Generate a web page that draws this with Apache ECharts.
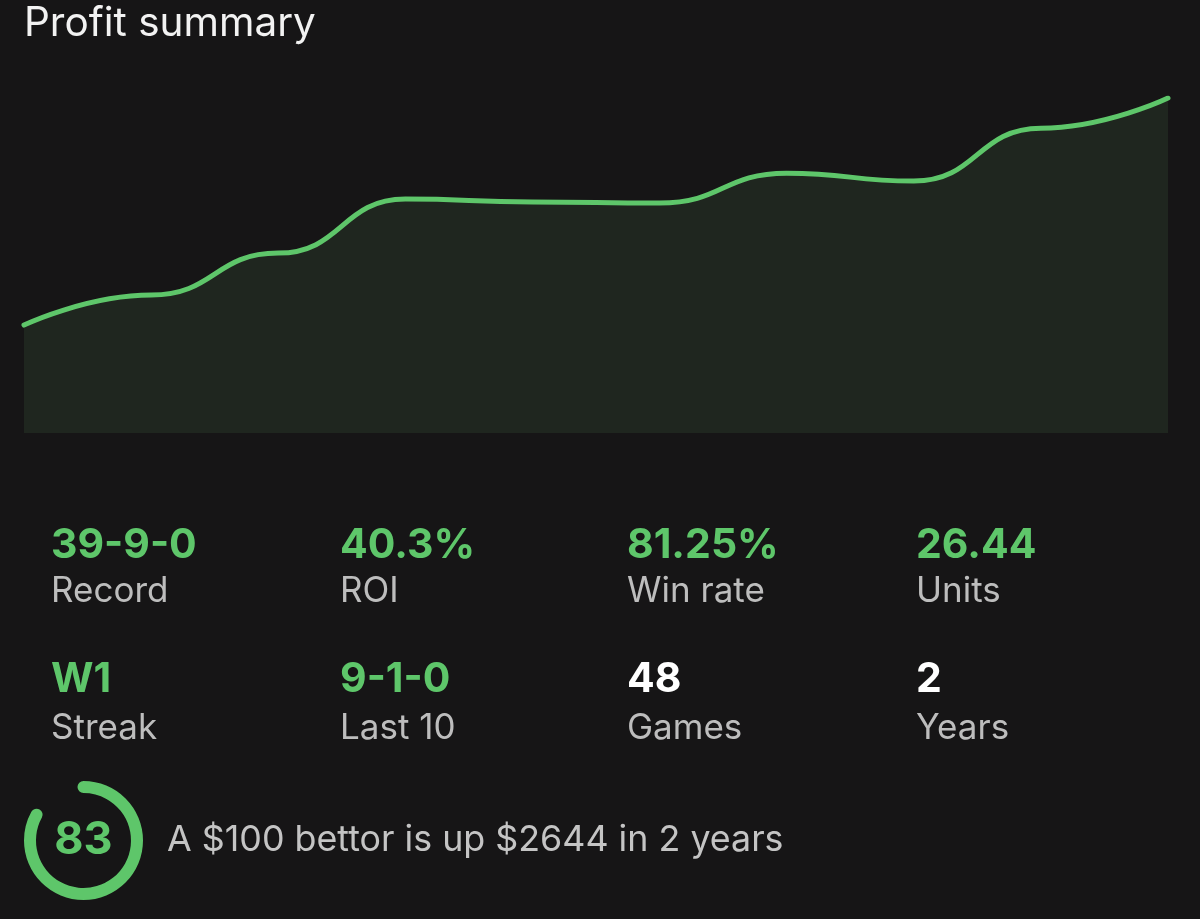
<!DOCTYPE html>
<html>
<head>
<meta charset="utf-8">
<script src="https://cdn.jsdelivr.net/npm/echarts@6/dist/echarts.min.js"></script>
<style>
  html, body { margin: 0; padding: 0; background: #161516; }
  #chart { width: 1200px; height: 919px; }
</style>
</head>
<body>
<div id="chart"></div>
<script>
// ---- data ----
const title = 'Profit summary';
const periods = ['1', '2', '3', '4', '5', '6', '7', '8', '9', '10'];
const cumulativeUnits = [8.52, 10.89, 14.20, 18.46, 18.23, 18.15, 20.51, 19.88, 24.06, 26.44];

const statValuesRow1 = ['39-9-0', '40.3%', '81.25%', '26.44'];
const statLabelsRow1 = ['Record', 'ROI', 'Win rate', 'Units'];
const statValuesRow2 = ['W1', '9-1-0', '48', '2'];
const statLabelsRow2 = ['Streak', 'Last 10', 'Games', 'Years'];
const statHighlightRow2 = [true, true, false, false];

const score = 83;
const scoreMax = 100;
const summaryText = 'A $100 bettor is up $2644 in 2 years';

// ---- styles ----
const GREEN = '#5ec66a';
const LABEL = '#bdbdbd';
const FONT = 'Inter, "Noto Sans", sans-serif';
const colX = [51, 340, 627, 916];

const graphics = [];
graphics.push({
  type: 'text',
  style: { text: title, x: 24, y: 24, fill: '#f2f2f2', font: '400 40.5px ' + FONT, verticalAlign: 'middle' }
});
function addRow(values, labels, yVal, yLab, highlight) {
  values.forEach((v, i) => {
    graphics.push({
      type: 'text',
      style: { text: v, x: colX[i], y: yVal, fill: (highlight ? highlight[i] : true) ? GREEN : '#ffffff',
               font: '700 41px ' + FONT, verticalAlign: 'middle' }
    });
    graphics.push({
      type: 'text',
      style: { text: labels[i], x: colX[i], y: yLab, fill: LABEL, font: '400 35px ' + FONT, verticalAlign: 'middle' }
    });
  });
}
addRow(statValuesRow1, statLabelsRow1, 545.5, 591, null);
addRow(statValuesRow2, statLabelsRow2, 680, 728, statHighlightRow2);
graphics.push({
  type: 'text',
  style: { text: summaryText, x: 167, y: 840.5, fill: '#c4c4c4', font: '400 35.8px ' + FONT, verticalAlign: 'middle' }
});

const chart = echarts.init(document.getElementById('chart'));
chart.setOption({
  backgroundColor: '#161516',
  animation: false,
  grid: { left: 24, right: 32, top: 98, bottom: 486, containLabel: false },
  xAxis: { type: 'category', data: periods, boundaryGap: false, show: false },
  yAxis: { type: 'value', min: 0, max: 26.44, show: false },
  graphic: graphics,
  series: [
    {
      type: 'line',
      data: cumulativeUnits,
      smooth: 0.5,
      smoothMonotone: 'x',
      showSymbol: false,
      lineStyle: { color: GREEN, width: 5, cap: 'round' },
      areaStyle: { color: '#1f261f', opacity: 1, origin: 'start' },
      z: 2
    },
    {
      type: 'gauge',
      center: [83.5, 840.5],
      radius: 59.5,
      startAngle: 90,
      endAngle: -270,
      min: 0,
      max: scoreMax,
      pointer: { show: false },
      progress: { show: true, roundCap: true, width: 12, itemStyle: { color: GREEN } },
      axisLine: { lineStyle: { width: 12, color: [[1, 'rgba(0,0,0,0)']] } },
      axisTick: { show: false },
      splitLine: { show: false },
      axisLabel: { show: false },
      title: { show: false },
      detail: {
        show: true, offsetCenter: [0, 0], valueAnimation: false,
        fontSize: 45, fontWeight: 700, fontFamily: 'Inter', color: GREEN,
        formatter: '{value}'
      },
      data: [{ value: score }]
    }
  ]
});
</script>
</body>
</html>
